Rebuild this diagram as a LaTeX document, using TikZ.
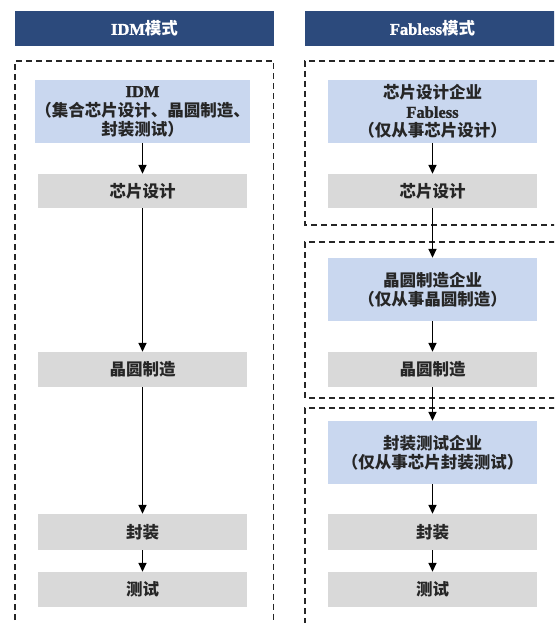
\documentclass[tikz,border=0pt]{standalone}
\usepackage{fontspec}
\setmainfont{Liberation Serif}
\newfontfamily\cjk{Noto Sans CJK SC}
\newfontfamily\latb{Liberation Serif Bold}[FakeBold=1.5]
\usetikzlibrary{arrows.meta}
\definecolor{hdr}{HTML}{2C4A7C}
\definecolor{nblue}{HTML}{C9D7EF}
\definecolor{ngray}{HTML}{D9D9D9}
\definecolor{txt}{HTML}{262626}
\newcommand{\lt}[1]{{\latb\mdseries #1}}
\newcommand{\zh}[1]{{\cjk\bfseries #1}}
\tikzset{
  header/.style={fill=hdr, text=white, minimum height=35.5pt, inner sep=0pt,
    font=\fontsize{16.5}{19}\selectfont\bfseries},
  box/.style={minimum width=209pt, inner sep=0pt, align=center, text=txt,
    font=\fontsize{16.5}{19}\selectfont\bfseries},
  bluebox/.style={box, fill=nblue, minimum height=63pt},
  graybox/.style={box, fill=ngray},
  arr/.style={draw=black, line width=1.6pt, -{Triangle[width=8pt,length=9pt]}},
  dashbox/.style={draw=black!85, line width=1.2pt, dash pattern=on 6pt off 4pt}
}
\begin{document}
\begin{tikzpicture}[x=1pt,y=-1pt]
\useasboundingbox (0,0) rectangle (554,623);
\clip (0,0) rectangle (554,623);
% headers
\node[header, minimum width=259pt] (hl) at (144.5,28.5) {\lt{IDM}\zh{模式}};
\node[header, minimum width=255pt] (hr) at (432.5,28.5) {\lt{Fabless}\zh{模式}};
% dashed frames
\draw[dashbox] (15,640) -- (15,61) -- (273.5,61) -- (273.5,640);
\draw[dashbox] (565,61) -- (305,61) -- (305,225) -- (565,225);
\draw[dashbox] (565,242) -- (305,242) -- (305,398) -- (565,398);
\draw[dashbox] (565,408) -- (305,408) -- (305,640);
% left column
\node[bluebox] (idm) at (142.5,111.5) {\lt{IDM}\\\zh{（集合芯片设计、晶圆制造、}\\\zh{封装测试）}};
\node[graybox, minimum height=34pt] (l1) at (142.5,191) {\zh{芯片设计}};
\node[graybox, minimum height=35pt] (l2) at (142.5,369.5) {\zh{晶圆制造}};
\node[graybox, minimum height=36pt] (l3) at (142.5,532) {\zh{封装}};
\node[graybox, minimum height=35pt] (l4) at (142.5,589.5) {\zh{测试}};
% right column
\node[bluebox] (r0) at (432.5,111.5) {\zh{芯片设计企业}\\\lt{Fabless}\\\zh{（仅从事芯片设计）}};
\node[graybox, minimum height=34pt] (r1) at (432.5,191) {\zh{芯片设计}};
\node[bluebox] (r2) at (432.5,289.5) {\zh{晶圆制造企业}\\\zh{（仅从事晶圆制造）}};
\node[graybox, minimum height=35pt] (r3) at (432.5,369.5) {\zh{晶圆制造}};
\node[bluebox] (r4) at (432.5,452.5) {\zh{封装测试企业}\\\zh{（仅从事芯片封装测试）}};
\node[graybox, minimum height=36pt] (r5) at (432.5,532) {\zh{封装}};
\node[graybox, minimum height=35pt] (r6) at (432.5,589.5) {\zh{测试}};
% arrows
\draw[arr] (idm) -- (l1);
\draw[arr] (l1) -- (l2);
\draw[arr] (l2) -- (l3);
\draw[arr] (l3) -- (l4);
\draw[arr] (r0) -- (r1);
\draw[arr] (r1) -- (r2);
\draw[arr] (r2) -- (r3);
\draw[arr] (r3) -- (r4);
\draw[arr] (r4) -- (r5);
\draw[arr] (r5) -- (r6);
\end{tikzpicture}
\end{document}
